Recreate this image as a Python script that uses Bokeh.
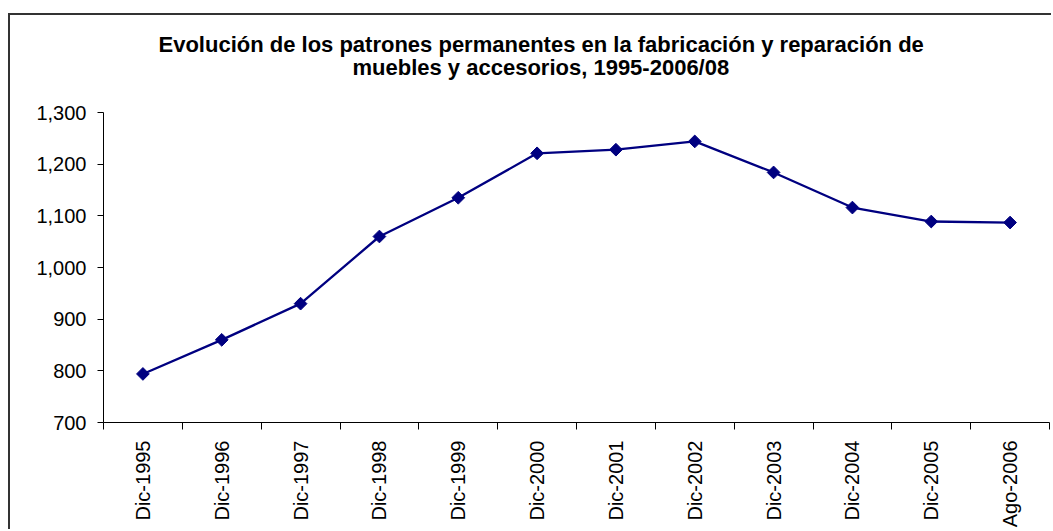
import math
from bokeh.plotting import figure
from bokeh.models import FixedTicker, NumeralTickFormatter, Range1d, Title, ColumnDataSource, InlineStyleSheet
from bokeh.embed import file_html
from bokeh.resources import INLINE

categories = ["Dic-1995", "Dic-1996", "Dic-1997", "Dic-1998", "Dic-1999", "Dic-2000",
              "Dic-2001", "Dic-2002", "Dic-2003", "Dic-2004", "Dic-2005", "Ago-2006"]
values = [794, 860, 930, 1060, 1135, 1221, 1228, 1244, 1184, 1116, 1089, 1087]
y_ticks = [700, 800, 900, 1000, 1100, 1200, 1300]
title_line1 = "Evolución de los patrones permanentes en la fabricación y reparación de"
title_line2 = "muebles y accesorios, 1995-2006/08"

FONT = "Liberation Sans"
NAVY = "#000080"

xs = [i + 0.5 for i in range(len(categories))]
src = ColumnDataSource(dict(x=xs, y=values, cat=categories))

p = figure(width=1043, height=516, output_backend="svg", toolbar_location=None,
           x_range=Range1d(0, len(categories)), y_range=Range1d(y_ticks[0], y_ticks[-1]),
           min_border_left=93, min_border_right=4, min_border_top=97, min_border_bottom=109)
p.stylesheets = [InlineStyleSheet(css=":host { margin-top: 13px; margin-left: 8px; "
                                      "border-top: 2px solid #333333; border-left: 2px solid #333333; }")]

p.line("x", "y", source=src, line_color=NAVY, line_width=2.3)
p.scatter("x", "y", source=src, marker="square", angle=math.pi / 4, size=9,
          fill_color=NAVY, line_color=NAVY)

p.outline_line_color = None
p.grid.grid_line_color = None
p.background_fill_color = "white"
p.border_fill_color = "white"

# x axis: labels at centres, ticks at category boundaries
xa = p.xaxis[0]
xa.ticker = FixedTicker(ticks=xs, minor_ticks=list(range(len(categories) + 1)))
xa.major_label_overrides = {x: c for x, c in zip(xs, categories)}
xa.major_tick_out = 0
xa.major_tick_in = 0
xa.minor_tick_out = 7
xa.minor_tick_in = 0
xa.minor_tick_line_color = "black"
xa.major_label_orientation = math.pi / 2
xa.major_label_standoff = 11
xa.major_label_text_font = FONT
xa.major_label_text_font_size = "20px"
xa.major_label_text_color = "black"
xa.axis_line_color = "black"

ya = p.yaxis[0]
ya.ticker = FixedTicker(ticks=y_ticks, minor_ticks=[])
ya.formatter = NumeralTickFormatter(format="0,0")
ya.major_tick_out = 6
ya.major_tick_in = 0
ya.major_label_standoff = 11
ya.major_label_text_font = FONT
ya.major_label_text_font_size = "20px"
ya.major_label_text_color = "black"
ya.axis_line_color = "black"

spacer = Title(text=" ", text_font=FONT, text_font_size="10px", standoff=20)
t2 = Title(text=title_line2, align="left", offset=249, text_font=FONT,
           text_font_size="22px", text_font_style="bold", text_color="black", standoff=0)
t1 = Title(text=title_line1, align="left", offset=55, text_font=FONT,
           text_font_size="22px", text_font_style="bold", text_color="black", standoff=-8)
p.add_layout(spacer, "above")
p.add_layout(t2, "above")
p.add_layout(t1, "above")

open("out.html", "w").write(file_html(p, INLINE))
